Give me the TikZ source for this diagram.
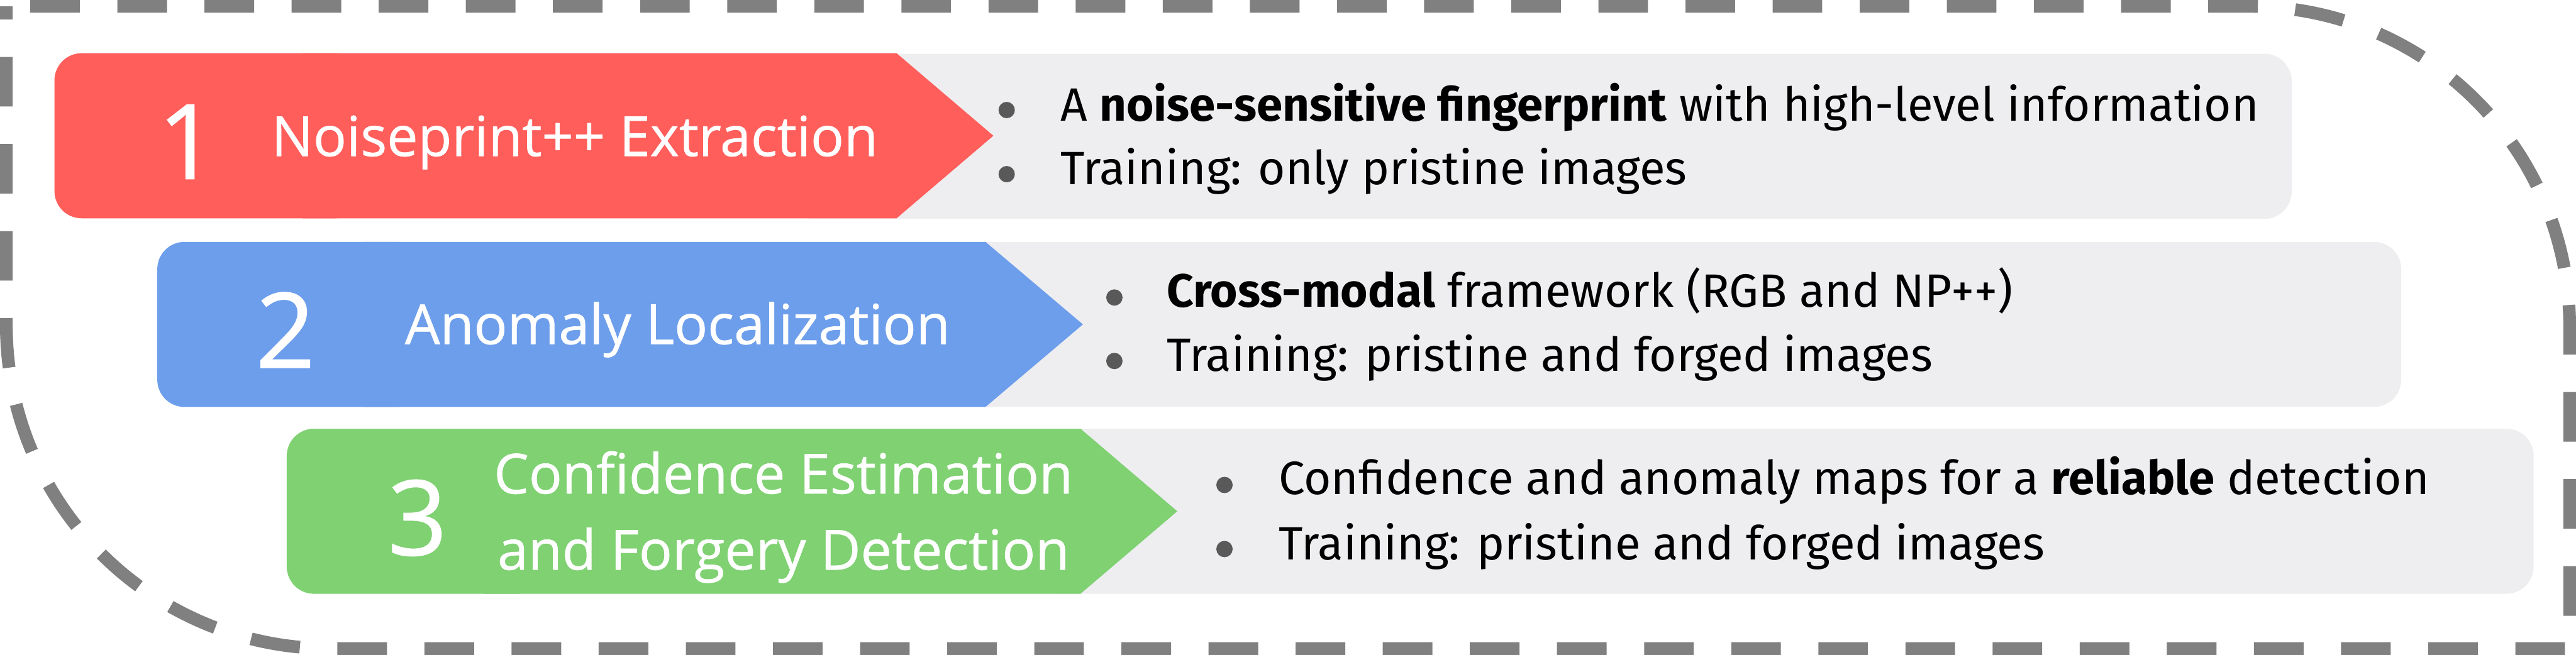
\documentclass[tikz,border=0pt]{standalone}
\usepackage{fontspec}
\setmainfont{Fira Sans}
\newfontfamily\headfont{Open Sans}[RawFeature={embolden=0.8}]
\usetikzlibrary{positioning}
\definecolor{stepred}{HTML}{FF5E5B}
\definecolor{stepblue}{HTML}{6D9EEB}
\definecolor{stepgreen}{HTML}{7FD172}
\definecolor{descgray}{HTML}{EEEEF1}
\definecolor{framegray}{HTML}{808080}
\definecolor{dotgray}{HTML}{595959}

\begin{document}
\begin{tikzpicture}[
    dashframe/.style={draw=framegray, line width=0.21cm, dash pattern=on 0.82cm off 0.62cm, dash phase=1.045cm},
    descbox/.style={fill=descgray, rounded corners=0.45cm},
    stepnum/.style={text=white, font=\headfont\fontsize{49}{49}\selectfont, anchor=base},
    steptitle/.style={text=white, font=\headfont\fontsize{26}{35.8}\selectfont, anchor=base, align=center},
    bulletdot/.style={circle, fill=dotgray, inner sep=0pt, minimum size=0.27cm},
    desc/.style={font=\fontsize{22}{28}\selectfont, anchor=base west, inner sep=0pt},
]
  \useasboundingbox (0,0) rectangle (42.58,-10.83);

  % Outer dashed frame (two big rounded corners)
  \draw[dashframe] (0.105,-0.105) -- (37.175,-0.105) arc[start angle=90, end angle=0, radius=5.30]
    -- (42.475,-10.725) -- (5.455,-10.725) arc[start angle=270, end angle=180, radius=5.35] -- cycle;

  % Step 1: Noiseprint++ extraction
  \fill[descbox] (13.0,-0.89) rectangle (37.88,-3.62);
  \fill[stepred, rounded corners=0.45cm] (0.90,-0.88) rectangle (6.0,-3.61);
  \fill[stepred] (5.0,-0.88) -- (14.82,-0.88) -- (16.42,-2.245) -- (14.82,-3.61) -- (5.0,-3.61) -- cycle;
  \node[stepnum] (n1) at (3.10,-2.96) {1};
  \node[steptitle] (t1) at (9.50,-2.58) {Noiseprint++ Extraction};
  \node[bulletdot] (b1a) at (16.64,-1.82) {};
  \node[bulletdot] (b1b) at (16.64,-2.88) {};
  \node[desc] (d1a) at (17.52,-2.00) {A \textbf{noise-sensitive fingerprint} with high-level information};
  \node[desc] (d1b) at (17.52,-3.05) {Training: only pristine images};

  % Step 2: anomaly localization
  \fill[descbox] (15.0,-4.00) rectangle (39.69,-6.73);
  \fill[stepblue, rounded corners=0.45cm] (2.60,-4.00) rectangle (7.0,-6.73);
  \fill[stepblue] (6.0,-4.00) -- (16.29,-4.00) -- (17.90,-5.365) -- (16.29,-6.73) -- (6.0,-6.73) -- cycle;
  \node[stepnum] (n2) at (4.72,-6.08) {2};
  \node[steptitle] (t2) at (11.20,-5.69) {Anomaly Localization};
  \node[bulletdot] (b2a) at (18.42,-4.92) {};
  \node[bulletdot] (b2b) at (18.42,-5.97) {};
  \node[desc] (d2a) at (19.28,-5.08) {\textbf{Cross-modal} framework (RGB and NP++)};
  \node[desc] (d2b) at (19.28,-6.14) {Training: pristine and forged images};

  % Step 3: confidence + detection
  \fill[descbox] (17.0,-7.09) rectangle (41.88,-9.82);
  \fill[stepgreen, rounded corners=0.45cm] (4.74,-7.09) rectangle (9.0,-9.82);
  \fill[stepgreen] (8.0,-7.09) -- (17.86,-7.09) -- (19.46,-8.455) -- (17.86,-9.82) -- (8.0,-9.82) -- cycle;
  \node[stepnum] (n3) at (6.90,-9.18) {3};
  \node[steptitle] (t3) at (12.95,-9.42) {Confidence Estimation\\and Forgery Detection};
  \node[bulletdot] (b3a) at (20.24,-8.02) {};
  \node[bulletdot] (b3b) at (20.24,-9.08) {};
  \node[desc] (d3a) at (21.13,-8.18) {Confidence and anomaly maps for a \textbf{reliable} detection};
  \node[desc] (d3b) at (21.13,-9.26) {Training: pristine and forged images};
\end{tikzpicture}
\end{document}
